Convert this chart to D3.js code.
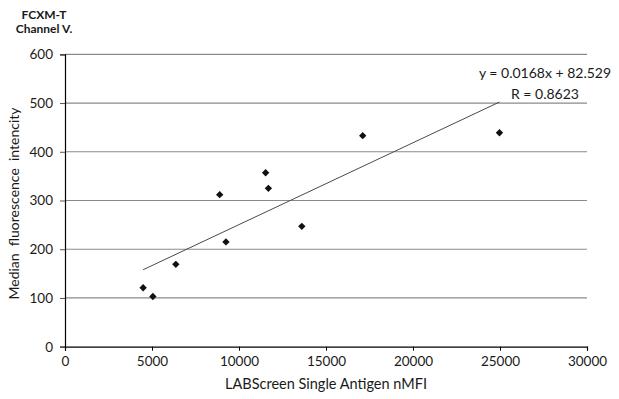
<!DOCTYPE html>
<html>
<head>
<meta charset="utf-8">
<script src="https://cdn.jsdelivr.net/npm/d3@7"></script>
<style>
  body { margin: 0; background: #fff; }
  svg { display: block; font-family: Lato, "Open Sans", sans-serif; }
</style>
</head>
<body>
<div id="chart"></div>
<script>
// values
const nmfi = [4490, 5050, 6370, 8890, 9250, 11530, 11690, 13610, 17110, 24970];
const mfi = [121, 103, 169, 312, 215, 357, 325, 247, 433, 439];
const xTicks = [0, 5000, 10000, 15000, 20000, 25000, 30000];
const yTicks = [0, 100, 200, 300, 400, 500, 600];
const slope = 0.0168, intercept = 82.529;
const fitText = ["y = 0.0168x + 82.529", "R = 0.8623"];

const width = 619, height = 399;
const margin = { top: 54, right: 32, bottom: 52, left: 65 };

const svg = d3.select("#chart").append("svg")
  .attr("width", width)
  .attr("height", height);

const x = d3.scaleLinear().domain([0, 30000])
  .range([margin.left, width - margin.right]);
const y = d3.scaleLinear().domain([0, 600])
  .range([height - margin.bottom - 0.3, margin.top + 0.3]);

// gridlines
svg.append("g")
  .selectAll("line")
  .data(yTicks.filter(d => d > 0))
  .join("line")
  .attr("x1", x(0)).attr("x2", x(30000))
  .attr("y1", d => y(d)).attr("y2", d => y(d))
  .attr("stroke", "#8a8a8a")
  .attr("stroke-width", 1.2);

const xAxis = svg.append("g")
  .attr("transform", `translate(0,${y(0)})`)
  .call(d3.axisBottom(x).tickValues(xTicks).tickFormat(d3.format("d")).tickSize(4).tickPadding(6));

const yAxis = svg.append("g")
  .attr("transform", `translate(${x(0)},0)`)
  .call(d3.axisLeft(y).tickValues(yTicks).tickSize(5).tickPadding(7));

[xAxis, yAxis].forEach(g => {
  g.select(".domain").attr("stroke", "#000").attr("stroke-width", 1.2);
  g.selectAll(".tick line").attr("stroke", "#000");
  g.selectAll(".tick text").attr("font-size", 13.5).attr("fill", "#1a1a1a")
    .attr("font-family", "Lato, sans-serif");
});
yAxis.selectAll(".tick line").attr("stroke", "#555");

// trend line over the data range
const xr = d3.extent(nmfi);
svg.append("line")
  .attr("x1", x(xr[0])).attr("y1", y(slope * xr[0] + intercept))
  .attr("x2", x(xr[1])).attr("y2", y(slope * xr[1] + intercept))
  .attr("stroke", "#4a4a4a")
  .attr("stroke-width", 1);

// points
const diamond = d3.symbol().type(d3.symbolSquare).size(27);
svg.append("g")
  .selectAll("path")
  .data(nmfi.map((v, i) => [v, mfi[i]]))
  .join("path")
  .attr("d", diamond)
  .attr("transform", d => `translate(${x(d[0])},${y(d[1])}) rotate(45)`)
  .attr("fill", "#111");

// equation
svg.append("g")
  .selectAll("text")
  .data(fitText)
  .join("text")
  .attr("x", 545)
  .attr("y", (d, i) => 78 + i * 21)
  .attr("text-anchor", "middle")
  .attr("font-size", 14)
  .attr("fill", "#1a1a1a")
  .text(d => d);

// axis titles
svg.append("text")
  .attr("x", (x(0) + x(30000)) / 2)
  .attr("y", 389)
  .attr("text-anchor", "middle")
  .attr("font-size", 14.5)
  .attr("fill", "#1a1a1a")
  .text("LABScreen Single Antigen nMFI");

svg.append("text")
  .attr("transform", `translate(19,${(y(0) + y(600)) / 2 + 3}) rotate(-90)`)
  .attr("text-anchor", "middle")
  .attr("font-size", 14)
  .attr("fill", "#1a1a1a")
  .style("white-space", "pre")
  .text("Median  fluorescence  intencity");

svg.append("g")
  .selectAll("text")
  .data(["FCXM-T", "Channel V."])
  .join("text")
  .attr("x", 44)
  .attr("y", (d, i) => 19 + i * 13.5)
  .attr("text-anchor", "middle")
  .attr("font-size", 12)
  .attr("font-weight", "bold")
  .attr("fill", "#1a1a1a")
  .text(d => d);
</script>
</body>
</html>
